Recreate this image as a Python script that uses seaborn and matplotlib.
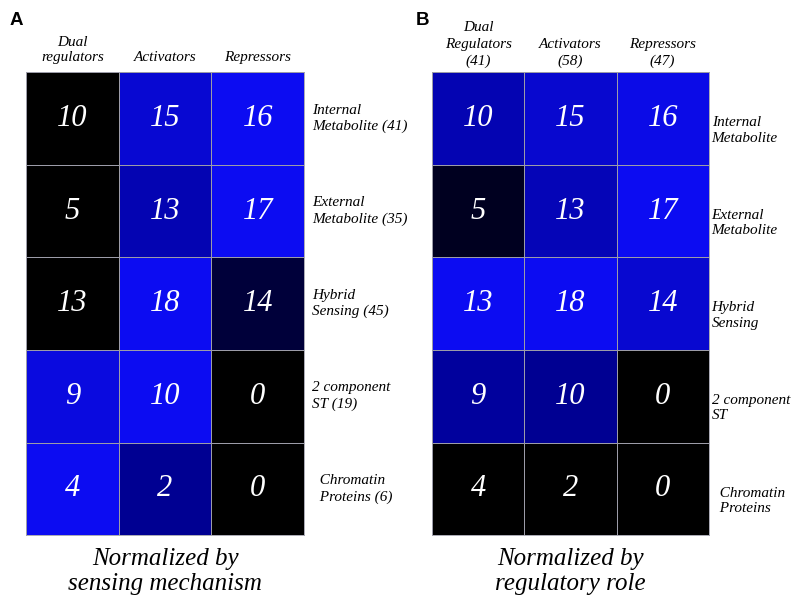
import numpy as np
import pandas as pd
import matplotlib
matplotlib.use('Agg')
import matplotlib.pyplot as plt
import matplotlib.transforms as mtransforms
from matplotlib.colors import LinearSegmentedColormap
import seaborn as sns

# counts of regulators per sensing mechanism (rows) and regulatory role (columns)
sensing = ['Internal Metabolite', 'External Metabolite', 'Hybrid Sensing',
           '2 component ST', 'Chromatin Proteins']
roles = ['Dual regulators', 'Activators', 'Repressors']
dual = [10, 5, 13, 9, 4]
activators = [15, 13, 18, 10, 2]
repressors = [16, 17, 14, 0, 0]

labels_a_cols = ['Dual\nregulators', 'Activators', 'Repressors']
labels_a_rows = ['Internal\nMetabolite (41)', 'External\nMetabolite (35)',
                 'Hybrid\nSensing (45)', '2 component\nST (19)',
                 '  Chromatin\n  Proteins (6)']
labels_b_cols = ['Dual\nRegulators\n(41)', 'Activators\n(58)', 'Repressors\n(47)']
labels_b_rows = ['Internal\nMetabolite', 'External\nMetabolite',
                 'Hybrid\nSensing', '2 component\nST', '  Chromatin\n  Proteins']

counts = pd.DataFrame({'Dual regulators': dual, 'Activators': activators,
                       'Repressors': repressors}, index=sensing)

# normalise within each row (A) or column (B), then stretch to 0..1
share_a = counts.div(counts.sum(axis=1), axis=0)
share_a = share_a.sub(share_a.min(axis=1), axis=0).div(
    share_a.max(axis=1) - share_a.min(axis=1), axis=0)
share_b = counts.div(counts.sum(axis=0), axis=1)
share_b = (share_b - share_b.min()) / (share_b.max() - share_b.min())

cmap = LinearSegmentedColormap.from_list('blk_blue', ['#000000', '#000092', '#0c0cf2'])

sns.set_style('white')
plt.rcParams['font.family'] = ['Liberation Serif', 'DejaVu Serif']
plt.rcParams['font.style'] = 'italic'
plt.rcParams['text.color'] = 'black'
plt.rcParams['xtick.color'] = 'black'
plt.rcParams['ytick.color'] = 'black'
plt.rcParams['axes.labelcolor'] = 'black'

fig = plt.figure(figsize=(8, 6.06), dpi=100)
ax_a = fig.add_axes([0.0325, 0.117, 0.3475, 0.764])
ax_b = fig.add_axes([0.54, 0.117, 0.346, 0.764])

annot_kw = {'fontsize': 22, 'color': 'white', 'fontstyle': 'italic',
            'fontfamily': 'Liberation Serif'}

for ax, share, cols, rows, title in [
        (ax_a, share_a, labels_a_cols, labels_a_rows,
         'Normalized by\nsensing mechanism'),
        (ax_b, share_b, labels_b_cols, labels_b_rows,
         'Normalized by\nregulatory role')]:
    sns.heatmap(share, ax=ax, cmap=cmap, vmin=0, vmax=1, cbar=False,
                annot=counts.values, fmt='d', annot_kws=annot_kw,
                linewidths=0.5, linecolor='#9c9ca8',
                xticklabels=cols, yticklabels=rows)
    ax.xaxis.tick_top()
    ax.yaxis.tick_right()
    ax.tick_params(length=0)
    for lab in ax.get_xticklabels():
        lab.set_rotation(0)
        lab.set_fontsize(11)
        lab.set_color('black')
        lab.set_ha('center')
        lab.set_va('bottom')
        lab.set_multialignment('center')
    for lab in ax.get_yticklabels():
        lab.set_rotation(0)
        lab.set_fontsize(11)
        lab.set_color('black')
        lab.set_ha('left')
        lab.set_va('center')
        lab.set_multialignment('left')
    ax.set_xlabel(title, fontsize=18, linespacing=1.2, labelpad=9, color='black')
    ax.xaxis.set_label_position('bottom')
    ax.set_ylabel('')
    for s in ax.spines.values():
        s.set_visible(True)
        s.set_color('#9c9ca8')
        s.set_linewidth(0.6)

ax_a.tick_params(axis='x', pad=6)
ax_a.tick_params(axis='y', pad=6)
for lab in ax_a.get_yticklabels():
    lab.set_linespacing(1.3)
for lab in ax_a.get_xticklabels():
    lab.set_linespacing(1.2)

ax_b.tick_params(axis='x', pad=3)
ax_b.tick_params(axis='y', pad=2)
shift = mtransforms.ScaledTranslation(0, -0.12, fig.dpi_scale_trans)
for lab in ax_b.get_yticklabels():
    lab.set_linespacing(1.25)
    lab.set_transform(lab.get_transform() + shift)
for lab in ax_b.get_xticklabels():
    lab.set_linespacing(1.35)

fig.text(10 / 800, 1 - 12 / 606, 'A', fontsize=13.5, fontweight='bold',
         fontstyle='normal', family=['Liberation Sans', 'DejaVu Sans'],
         ha='left', va='top')
fig.text(416 / 800, 1 - 12 / 606, 'B', fontsize=13.5, fontweight='bold',
         fontstyle='normal', family=['Liberation Sans', 'DejaVu Sans'],
         ha='left', va='top')

fig.savefig('out.png', dpi=100, facecolor='white')
